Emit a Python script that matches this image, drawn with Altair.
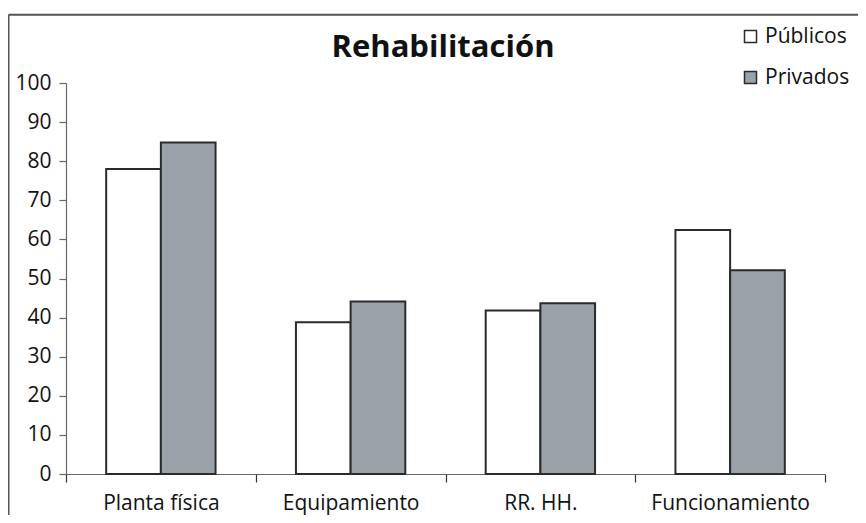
import altair as alt
import pandas as pd

categories = ["Planta física", "Equipamiento", "RR. HH.", "Funcionamiento"]
series = ["Públicos", "Privados"]
publicos = [78.0, 38.8, 41.8, 62.4]
privados = [84.8, 44.1, 43.7, 52.1]
y_ticks = list(range(0, 101, 10))
title_text = "Rehabilitación"

rows = []
for c, a, b in zip(categories, publicos, privados):
    rows.append({"cat": c, "serie": "Públicos", "val": a})
    rows.append({"cat": c, "serie": "Privados", "val": b})
df = pd.DataFrame(rows)

FONT = "Open Sans"

bars = alt.Chart(df).mark_bar(stroke="#2b2b2b", strokeWidth=2).encode(
    x=alt.X("cat:N", sort=categories, title=None,
            scale=alt.Scale(paddingInner=0, paddingOuter=0),
            axis=alt.Axis(labelAngle=0, tickBand="extent", tickSize=8,
                          labelPadding=10, labelFontSize=21, labelFont=FONT,
                          labelColor="#111", domainColor="#666", tickColor="#333",
                          domainWidth=1.2, tickWidth=1.2)),
    xOffset=alt.XOffset("serie:N", sort=series,
                        scale=alt.Scale(paddingInner=0, paddingOuter=0.735)),
    y=alt.Y("val:Q", title=None,
            scale=alt.Scale(domain=[0, 100], nice=False),
            axis=alt.Axis(values=y_ticks, tickSize=7, labelPadding=8,
                          labelFontSize=21, labelFont=FONT, labelColor="#111",
                          domainColor="#666", tickColor="#666", grid=False,
                          domainWidth=1.2, tickWidth=1.2)),
    color=alt.Color("serie:N", sort=series,
                    scale=alt.Scale(domain=series, range=["#ffffff", "#9ba1a8"]),
                    legend=alt.Legend(title=None, orient="none", legendX=674, legendY=-57,
                                      symbolType="square", symbolSize=144,
                                      symbolStrokeColor="#2b2b2b", symbolStrokeWidth=1.5,
                                      labelFontSize=21, labelFont=FONT, labelColor="#111",
                                      labelOffset=4, rowPadding=19)),
)

one = pd.DataFrame({"a": [0]})
frame_top = alt.Chart(one).mark_rule(color="#555", strokeWidth=2).encode(
    x=alt.value(-57.5), x2=alt.value(800), y=alt.value(-68.3))
frame_left = alt.Chart(one).mark_rule(color="#555", strokeWidth=2).encode(
    x=alt.value(-57.5), y=alt.value(-68.3), y2=alt.value(440))
title = alt.Chart(pd.DataFrame({"t": [title_text]})).mark_text(
    font=FONT, fontSize=31, fontWeight="bold", color="#111",
    align="center", baseline="alphabetic").encode(
    text="t:N", x=alt.value(377), y=alt.value(-26))

chart = alt.layer(frame_top, frame_left, title, bars).properties(
    width=759, height=391,
    autosize=alt.AutoSizeParams(type="none"),
    padding={"left": 58, "top": 75, "right": 33, "bottom": 41},
).configure_view(stroke=None)

chart.save("out.html", embed_options={"renderer": "svg", "actions": False})
